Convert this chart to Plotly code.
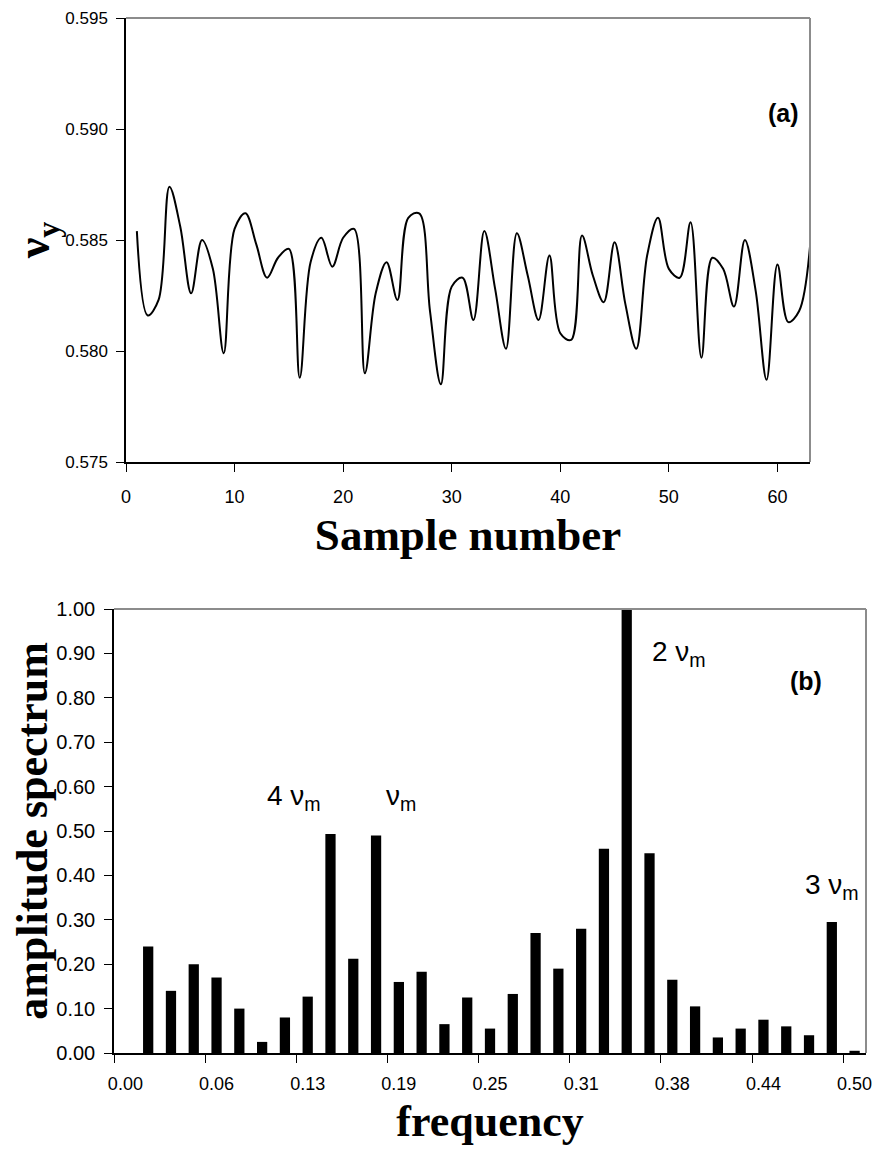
import plotly.graph_objects as go

# ---- data: panel (a) ----
sample_number = list(range(1, 64))
nu_y = [0.5854, 0.5816, 0.5823, 0.5874, 0.5856, 0.5826, 0.5850, 0.5837, 0.5799, 0.5855,
        0.5862, 0.5848, 0.5833, 0.5842, 0.5846, 0.5788, 0.5840, 0.5851, 0.5838, 0.5851,
        0.5855, 0.5790, 0.5826, 0.5840, 0.5823, 0.5860, 0.5862, 0.5818, 0.5785, 0.5829,
        0.5833, 0.5814, 0.5854, 0.5828, 0.5801, 0.5853, 0.5834, 0.5814, 0.5843, 0.5808,
        0.5805, 0.5852, 0.5834, 0.5822, 0.5849, 0.5821, 0.5801, 0.5843, 0.5860, 0.5837,
        0.5833, 0.5858, 0.5797, 0.5842, 0.5837, 0.5820, 0.5850, 0.5827, 0.5787, 0.5839,
        0.5813, 0.5818, 0.5847]
top_x_ticks = [0, 10, 20, 30, 40, 50, 60]
top_y_ticks = [0.575, 0.580, 0.585, 0.590, 0.595]

# ---- data: panel (b) ----
freq_bin = list(range(1, 33))
amplitude = [0.24, 0.14, 0.20, 0.17, 0.10, 0.025, 0.08, 0.127, 0.493, 0.212,
             0.49, 0.16, 0.183, 0.065, 0.125, 0.055, 0.133, 0.27, 0.19, 0.28,
             0.46, 1.00, 0.45, 0.165, 0.105, 0.035, 0.055, 0.075, 0.06, 0.04,
             0.295, 0.005]
freq_label_bins = [0, 4, 8, 12, 16, 20, 24, 28, 32]
freq_labels = ["0.00", "0.06", "0.13", "0.19", "0.25", "0.31", "0.38", "0.44", "0.50"]
freq_tick_bounds = [-0.5, 3.5, 7.5, 11.5, 15.5, 19.5, 23.5, 27.5, 31.5]
amp_ticks = [0.0, 0.1, 0.2, 0.3, 0.4, 0.5, 0.6, 0.7, 0.8, 0.9, 1.0]

# the page body adds an 8 px offset; layout is given in page pixels
OFF = 8
W, H = 880 - OFF, 1152 - OFF
SANS = "Liberation Sans, Arial, sans-serif"
SERIF = "Liberation Serif, Times New Roman, serif"


def fx(px):
    return (px - OFF) / W


def fy(py):
    return 1 - (py - OFF) / H


fig = go.Figure()
fig.add_trace(go.Scatter(x=sample_number, y=nu_y, mode="lines",
                         line=dict(color="black", width=2, shape="spline", smoothing=1),
                         xaxis="x", yaxis="y", showlegend=False))
fig.add_trace(go.Bar(x=freq_bin, y=amplitude, width=0.45, marker=dict(color="black", line=dict(width=0)),
                     xaxis="x2", yaxis="y2", showlegend=False))

top_dx = [fx(126), fx(810)]
top_dy = [fy(462), fy(18)]
bot_dx = [fx(114), fx(866)]
bot_dy = [fy(1053), fy(609)]

common = dict(showgrid=False, zeroline=False, showline=True, linecolor="black", linewidth=1.5,
              tickcolor="black", ticklen=8, automargin=False)
# inward tick halves so the ticks cross the axis lines
inner = dict(showgrid=False, zeroline=False, showline=False, showticklabels=False,
             ticks="inside", ticklen=4, tickcolor="black", automargin=False)

fig.update_layout(
    width=W, height=H, margin=dict(l=0, r=0, t=0, b=0, autoexpand=False),
    paper_bgcolor="white", plot_bgcolor="white",
    xaxis=dict(domain=top_dx, range=[0, 63], tickvals=top_x_ticks, ticks="outside",
               anchor="y", ticklabelstandoff=10,
               tickfont=dict(family=SANS, size=18, color="black"),
               title=dict(text="<b>Sample number</b>", font=dict(family=SERIF, size=45, color="black"),
                          standoff=12), **common),
    yaxis=dict(domain=top_dy, range=[0.575, 0.595], tickvals=top_y_ticks, tickformat=".3f",
               ticks="outside", anchor="x", ticklabelstandoff=5,
               tickfont=dict(family=SANS, size=17, color="black"),
               title=dict(text="<b>ν<sub>y</sub></b>", font=dict(family=SERIF, size=46, color="black"),
                          standoff=18), **common),
    xaxis3=dict(domain=top_dx, range=[0, 63], tickvals=top_x_ticks, anchor="y", overlaying="x", **inner),
    yaxis3=dict(domain=top_dy, range=[0.575, 0.595], tickvals=top_y_ticks, anchor="x",
                overlaying="y", **inner),
    xaxis2=dict(domain=bot_dx, range=[-0.5, 32.5], tickvals=freq_label_bins, ticktext=freq_labels,
                ticks="", anchor="y2", ticklabelstandoff=14,
                tickfont=dict(family=SANS, size=18, color="black"),
                minor=dict(tickmode="array", tickvals=freq_tick_bounds, ticks="outside", ticklen=8,
                           tickcolor="black", showgrid=False),
                title=dict(text="<b>frequency</b>", font=dict(family=SERIF, size=44, color="black"),
                           standoff=12), **common),
    yaxis2=dict(domain=bot_dy, range=[0, 1.0], tickvals=amp_ticks, tickformat=".2f",
                ticks="outside", anchor="x2", ticklabelstandoff=5,
                tickfont=dict(family=SANS, size=20, color="black"),
                title=dict(text="<b>amplitude spectrum</b>", font=dict(family=SERIF, size=44, color="black"),
                           standoff=12), **common),
    xaxis4=dict(domain=bot_dx, range=[-0.5, 32.5], tickvals=freq_tick_bounds, anchor="y2",
                overlaying="x2", **inner),
    yaxis4=dict(domain=bot_dy, range=[0, 1.0], tickvals=amp_ticks, anchor="x2",
                overlaying="y2", **inner),
)

# gray frame (top and right) on both panels
for xr, yr in (("x domain", "y domain"), ("x2 domain", "y2 domain")):
    fig.add_shape(type="line", xref=xr, yref=yr, x0=0, x1=1, y0=1, y1=1, line=dict(color="#8c8c8c", width=2))
    fig.add_shape(type="line", xref=xr, yref=yr, x0=1, x1=1, y0=0, y1=1, line=dict(color="#8c8c8c", width=2))

ann_font = dict(family=SANS, size=28, color="black")
fig.add_annotation(xref="paper", yref="paper", x=fx(801), y=fy(97), text="<b>(a)</b>",
                   showarrow=False, font=dict(family=SANS, size=25, color="black"))
fig.add_annotation(xref="paper", yref="paper", x=fx(824), y=fy(681), text="<b>(b)</b>",
                   showarrow=False, font=dict(family=SANS, size=25, color="black"))
fig.add_annotation(xref="x2", yref="y2", x=7.4, y=0.575, text="4 ν<sub>m</sub>", showarrow=False, font=ann_font)
fig.add_annotation(xref="x2", yref="y2", x=12.1, y=0.575, text="ν<sub>m</sub>", showarrow=False, font=ann_font)
fig.add_annotation(xref="x2", yref="y2", x=24.3, y=0.9, text="2 ν<sub>m</sub>", showarrow=False, font=ann_font)
fig.add_annotation(xref="x2", yref="y2", x=31.0, y=0.375, text="3 ν<sub>m</sub>", showarrow=False, font=ann_font)

fig.write_html("out.html")
